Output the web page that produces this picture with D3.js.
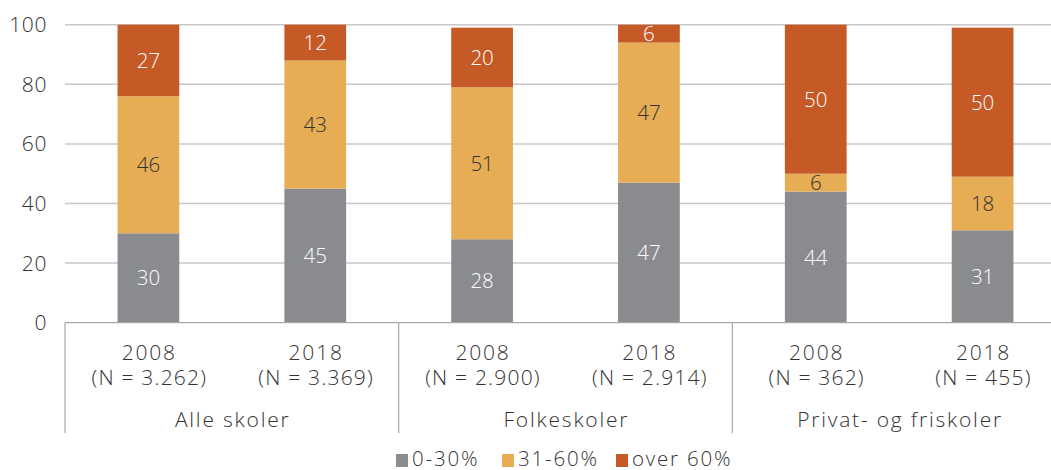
<!DOCTYPE html>
<html><head><meta charset="utf-8">
<script src="https://cdn.jsdelivr.net/npm/d3@7"></script>
<style>
body{margin:0;background:#fff;}
text{font-family:"Open Sans",sans-serif;font-weight:300;fill:#333;}
.wide{letter-spacing:1.8px;}
</style></head>
<body><svg id="c" width="1051" height="470"></svg>
<script>
const groups = ["Alle skoler","Folkeskoler","Privat- og friskoler"];
const years = ["2008","2018","2008","2018","2008","2018"];
const nLabels = ["(N = 3.262)","(N = 3.369)","(N = 2.900)","(N = 2.914)","(N = 362)","(N = 455)"];
const seriesNames = ["0-30%","31-60%","over 60%"];
const low = [30,45,28,47,44,31];
const mid = [46,43,51,47,6,18];
const high = [27,12,20,6,50,50];
const yTicks = [0,20,40,60,80,100];
const colors = ["#8a8b8f","#e6ad55","#c55a27"];
const labelColors = ["#ffffff","#333333","#ffffff"];

(function(){
const svg = d3.select("#c");
const mLeft = 65, mRight = 1066, mTop = 24.7, mBottom = 322.7;
const x = d3.scaleBand().domain(d3.range(years.length)).range([mLeft,mRight]).paddingInner(0.63).paddingOuter(0.315);
const y = d3.scaleLinear().domain([0,100]).range([mBottom,mTop]).clamp(true);

svg.append("g").selectAll("line").data(yTicks.filter(d=>d>0)).join("line")
  .attr("x1",mLeft).attr("x2",1051).attr("y1",d=>y(d)).attr("y2",d=>y(d))
  .attr("stroke","#c8c8c8").attr("stroke-width",1.5);
svg.append("g").selectAll("text").data(yTicks).join("text")
  .attr("x",47).attr("y",d=>y(d)).attr("dy","0.36em").attr("text-anchor","end")
  .attr("font-size",21).style("letter-spacing","0.6px").text(d=>d);

const stackData = years.map((_,i)=>({i, s0:low[i], s1:mid[i], s2:high[i]}));
const stack = d3.stack().keys(["s0","s1","s2"])(stackData);

stack.forEach((layer,k)=>{
  const g = svg.append("g");
  g.selectAll("rect").data(layer).join("rect")
    .attr("x",d=>x(d.data.i)).attr("width",x.bandwidth())
    .attr("y",d=>y(d[1])).attr("height",d=>y(d[0])-y(d[1]))
    .attr("fill",colors[k]);
  g.selectAll("text").data(layer).join("text")
    .attr("x",d=>x(d.data.i)+x.bandwidth()/2)
    .attr("y",d=>(y(d[0])+y(Math.min(d[1],100)))/2).attr("dy","0.36em")
    .attr("text-anchor","middle").attr("font-size",20.5)
    .style("fill",labelColors[k]).text(d=>d[1]-d[0]);
});

svg.append("line").attr("x1",mLeft).attr("x2",1051).attr("y1",mBottom).attr("y2",mBottom)
  .attr("stroke","#a8a8a8").attr("stroke-width",1.2);
const groupEdges = [0,2,4,6].map(i=> i===0? mLeft : (i===6? mRight : (x(i-1)+x.bandwidth()+x(i))/2));
svg.append("g").selectAll("line").data(groupEdges).join("line")
  .attr("x1",d=>d).attr("x2",d=>d).attr("y1",mBottom).attr("y2",433)
  .attr("stroke","#a8a8a8").attr("stroke-width",1.2);

const cl = svg.append("g");
cl.selectAll("text.yr").data(years).join("text").attr("class","yr wide")
  .attr("x",(d,i)=>x(i)+x.bandwidth()/2+0.9).attr("y",360).attr("text-anchor","middle")
  .attr("font-size",21).text(d=>d);
cl.selectAll("text.n").data(nLabels).join("text").attr("class","n wide")
  .attr("x",(d,i)=>x(i)+x.bandwidth()/2+0.9).attr("y",385).attr("text-anchor","middle")
  .attr("font-size",21).style("letter-spacing","1.2px").text(d=>d);
cl.selectAll("text.g").data(groups).join("text").attr("class","g wide")
  .attr("x",(d,gi)=>(groupEdges[gi]+groupEdges[gi+1])/2+0.9).attr("y",427).attr("text-anchor","middle")
  .attr("font-size",21).text(d=>d);

const legX = [396,502,616];
const lg = svg.append("g");
seriesNames.forEach((s,k)=>{
  lg.append("rect").attr("x",legX[k]).attr("y",454).attr("width",12).attr("height",13).attr("fill",colors[k]);
  lg.append("text").attr("class","wide").attr("x",legX[k]+16).attr("y",466).attr("font-size",20.5).text(s);
});
})();
</script></body></html>
